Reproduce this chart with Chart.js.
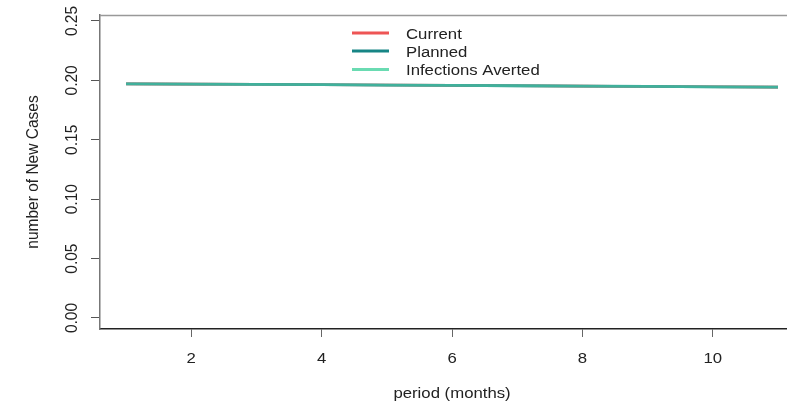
<!DOCTYPE html>
<html>
<head>
<meta charset="utf-8">
<script src="https://cdn.jsdelivr.net/npm/chart.js@4.4.1/dist/chart.umd.min.js"></script>
<style>
html,body{margin:0;padding:0;background:#fff;}
canvas{display:block;}
</style>
</head>
<body>
<canvas id="c" width="787" height="403"></canvas>
<script>
const months = [1,2,3,4,5,6,7,8,9,10,11];
const currentCases = [0.1971,0.1969,0.1967,0.1964,0.1961,0.1958,0.1955,0.1952,0.1949,0.1946,0.1943];
const plannedCases = [0.1971,0.1969,0.1967,0.1964,0.1961,0.1958,0.1955,0.1952,0.1949,0.1946,0.1943];
const avertedCases = [0.1971,0.1969,0.1967,0.1964,0.1961,0.1958,0.1955,0.1952,0.1949,0.1946,0.1943];
const seriesLabels = ['Current','Planned','Infections Averted'];
const xTickValues = [2,4,6,8,10];
const yTickValues = [0,0.05,0.10,0.15,0.20,0.25];
const yTickLabels = ['0.00','0.05','0.10','0.15','0.20','0.25'];
const xTitle = 'period (months)';
const yTitle = 'number of New Cases';

const colors = ['#EE5555','#178585','rgba(106,219,178,0.5)'];
const legendColors = ['#EE5555','#178585','#6ADBB2'];
const FONT = '"Liberation Sans", Arial, Helvetica, sans-serif';
const SX = 1.08;

function pts(vals){ return months.map((m,i)=>({x:m,y:vals[i]})); }

function hText(ctx, txt, x, y){
  ctx.save();
  ctx.translate(x, y);
  ctx.scale(SX, 1);
  ctx.fillText(txt, 0, 0);
  ctx.restore();
}
function vText(ctx, txt, x, y){
  ctx.save();
  ctx.translate(x, y);
  ctx.rotate(-Math.PI/2);
  ctx.scale(1, SX);
  ctx.fillText(txt, 0, 0);
  ctx.restore();
}

const rPlugin = {
  id:'rstyle',
  afterDraw(chart){
    const ctx = chart.ctx, ca = chart.chartArea;
    const xs = chart.scales.x, ys = chart.scales.y;
    ctx.save();
    ctx.strokeStyle = '#999';
    ctx.lineWidth = 1.5;
    ctx.beginPath(); ctx.moveTo(ca.left, ca.top+0.5); ctx.lineTo(ca.right, ca.top+0.5); ctx.stroke();
    ctx.fillStyle = '#222';
    ctx.font = '15.5px ' + FONT;
    ctx.textAlign = 'center'; ctx.textBaseline = 'middle';
    xTickValues.forEach(v=>{ hText(ctx, String(v), xs.getPixelForValue(v), 359); });
    yTickValues.forEach((v,i)=>{ vText(ctx, yTickLabels[i], 72, ys.getPixelForValue(v)); });
    hText(ctx, xTitle, xs.getPixelForValue(6), 394);
    vText(ctx, yTitle, 33, 172);
    ctx.textAlign = 'left';
    const rowY = [33, 51, 69.5];
    seriesLabels.forEach((lab,i)=>{
      ctx.strokeStyle = legendColors[i];
      ctx.lineWidth = 3;
      ctx.beginPath(); ctx.moveTo(352, rowY[i]); ctx.lineTo(389, rowY[i]); ctx.stroke();
      ctx.fillStyle = '#222';
      hText(ctx, lab, 406, rowY[i]+1.5);
    });
    ctx.restore();
  }
};

new Chart(document.getElementById('c'), {
  type:'line',
  data:{
    datasets:[
      {label:seriesLabels[0], data:pts(currentCases), borderColor:colors[0], borderWidth:2.6, pointRadius:0, tension:0, order:3},
      {label:seriesLabels[1], data:pts(plannedCases), borderColor:colors[1], borderWidth:2.8, pointRadius:0, tension:0, order:2},
      {label:seriesLabels[2], data:pts(avertedCases), borderColor:colors[2], borderWidth:2.8, pointRadius:0, tension:0, order:1}
    ]
  },
  options:{
    responsive:false,
    animation:false,
    events:[],
    layout:{padding:{top:15,left:0,right:0,bottom:0}},
    plugins:{legend:{display:false}, tooltip:{enabled:false}, title:{display:false}},
    scales:{
      x:{
        type:'linear', min:0.6, max:11.138,
        afterFit(s){ s.height = 74; },
        afterBuildTicks(s){ s.ticks = xTickValues.map(v=>({value:v})); },
        ticks:{display:false},
        grid:{drawOnChartArea:false, drawTicks:true, tickLength:8, color:'#666', lineWidth:1},
        border:{display:true, color:'#222', width:1.5}
      },
      y:{
        type:'linear', min:-0.00926, max:0.25505,
        afterFit(s){ s.width = 100; },
        afterBuildTicks(s){ s.ticks = yTickValues.map(v=>({value:v})); },
        ticks:{display:false},
        grid:{drawOnChartArea:false, drawTicks:true, tickLength:9, color:'#555', lineWidth:1},
        border:{display:true, color:'#777', width:1.5}
      }
    }
  },
  plugins:[rPlugin]
});
</script>
</body>
</html>
